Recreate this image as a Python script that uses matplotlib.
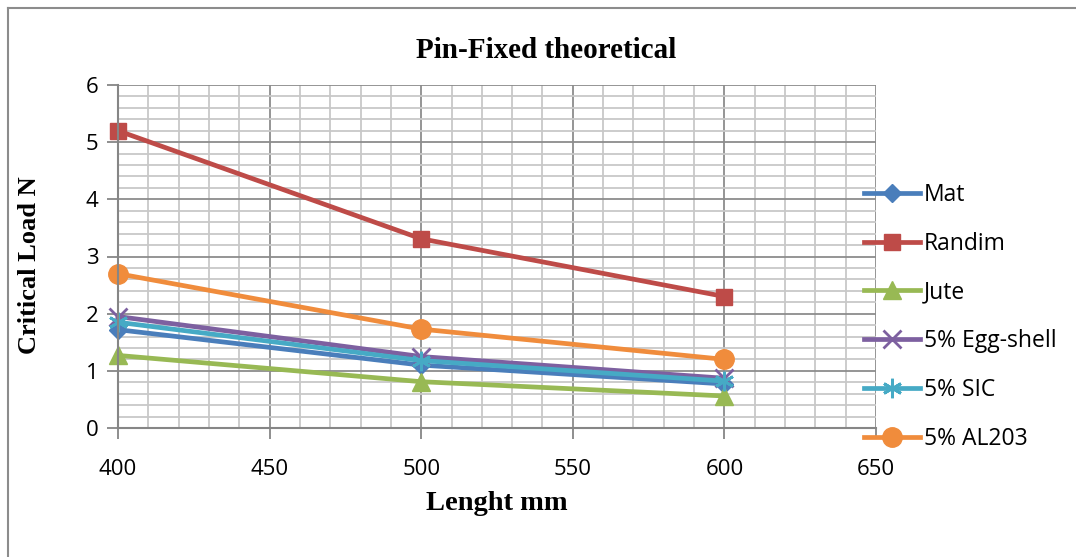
import matplotlib.pyplot as plt
from matplotlib.lines import Line2D
from matplotlib.ticker import MultipleLocator

# data
length = [400, 500, 600]
mat = [1.72, 1.10, 0.77]
randim = [5.20, 3.31, 2.30]
jute = [1.27, 0.81, 0.56]
egg_shell = [1.95, 1.25, 0.87]
sic = [1.85, 1.18, 0.82]
al203 = [2.70, 1.73, 1.20]

labels = ['Mat', 'Randim', 'Jute', '5% Egg-shell', '5% SIC', '5% AL203']
series = [mat, randim, jute, egg_shell, sic, al203]
colors = ['#4A7EBB', '#BE4B48', '#98B954', '#7D60A0', '#46AAC5', '#F08C3C']
markers = ['D', 's', '^', 'x', (6, 2, 0), 'o']
msizes = [9, 12, 13, 13, 14, 14]

plt.rcParams['font.family'] = ['Open Sans', 'DejaVu Sans']

fig = plt.figure(figsize=(10.76, 5.57), dpi=100)
ax = fig.add_axes([118 / 1076, 1 - 428 / 557, (876 - 118) / 1076, (428 - 85) / 557])

for y, lab, c, m, ms in zip(series, labels, colors, markers, msizes):
    kw = dict(markeredgewidth=2) if m in ('x', (6, 2, 0)) else dict(markeredgecolor=c)
    ax.plot(length, y, color=c, lw=3.4, marker=m, markersize=ms, label=lab, clip_on=False, **kw)

ax.set_xlim(400, 650)
ax.set_ylim(0, 6)
ax.xaxis.set_major_locator(MultipleLocator(50))
ax.xaxis.set_minor_locator(MultipleLocator(10))
ax.yaxis.set_major_locator(MultipleLocator(1))
ax.yaxis.set_minor_locator(MultipleLocator(0.2))
ax.grid(which='major', color='#8C8C8C', lw=1.3)
ax.grid(which='minor', color='#C8C8C8', lw=1.3)
ax.set_axisbelow(True)
for s in ['top', 'right']:
    ax.spines[s].set_visible(False)
for s in ['left', 'bottom']:
    ax.spines[s].set_color('#868686')
    ax.spines[s].set_linewidth(1.5)
ax.tick_params(which='major', length=8, width=1.3, color='#868686', labelsize=16, pad=6)
ax.tick_params(which='minor', length=0)
ax.tick_params(axis='x', pad=14)

ax.set_xlabel('Lenght mm', family='Liberation Serif', fontweight='bold', fontsize=20.5, labelpad=8)
fig.text(30 / 1076, 1 - 265 / 557, 'Critical Load N', family='Liberation Serif', fontweight='bold',
         fontsize=19, rotation=90, ha='center', va='center')
fig.text(546 / 1076, 1 - 50 / 557, 'Pin-Fixed theoretical', family='Liberation Serif',
         fontweight='bold', fontsize=21, ha='center', va='center')

ax.legend(loc='upper left', bbox_to_anchor=(864 / 1076, 1 - 183 / 557), bbox_transform=fig.transFigure,
          frameon=False, fontsize=16.5, handlelength=2.45, handletextpad=0.15, labelspacing=1.08,
          borderaxespad=0, borderpad=0)

fig.add_artist(Line2D([8 / 1076, 8 / 1076], [0, 1 - 8 / 557], color='#8C8C8C', lw=1.5))
fig.add_artist(Line2D([8 / 1076, 1], [1 - 8 / 557, 1 - 8 / 557], color='#8C8C8C', lw=1.5))

fig.savefig('out.png', dpi=100)
